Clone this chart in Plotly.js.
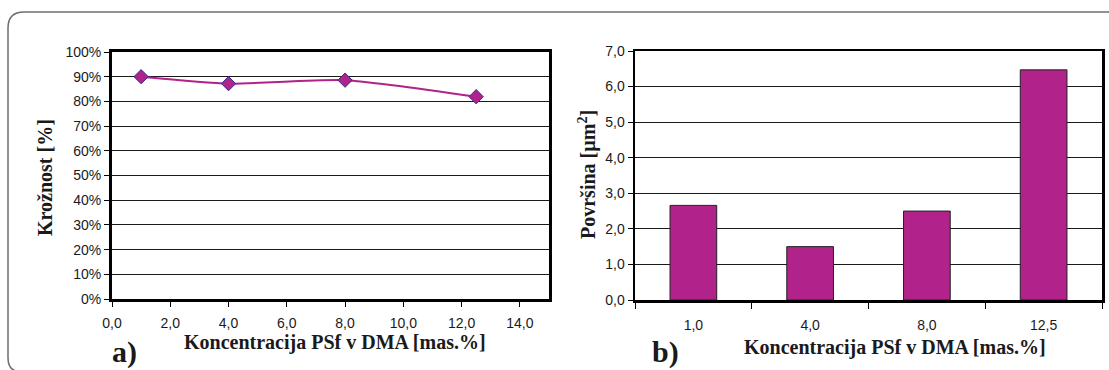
<!DOCTYPE html>
<html>
<head>
<meta charset="utf-8">
<script src="https://cdn.plot.ly/plotly-3.0.1.min.js"></script>
<style>html,body{margin:0;padding:0;background:#fff;}#chart{width:1109px;height:370px;}</style>
</head>
<body>
<div id="chart"></div>
<script>
// Data
const concentration = [1.0, 4.0, 8.0, 12.5];          // mas.%
const roundness = [0.900, 0.872, 0.886, 0.819];       // Krožnost (fraction)
const areaCategories = ['1,0', '4,0', '8,0', '12,5'];
const areaValues = [2.66, 1.50, 2.50, 6.47];          // Površina [µm²]

const W = 1109, H = 370;
const px = x => x / W;
const py = y => 1 - y / H;

const magenta = '#b1228a';
const serif = "'Liberation Serif', 'Times New Roman', serif";
const tickFont = {family: "'Liberation Sans', Arial, sans-serif", size: 14, color: '#1a1a1a'};
const titleFont = {family: serif, size: 20, color: '#1a1a1a', weight: 'bold'};
const labelFont = {family: serif, size: 30, color: '#1a1a1a', weight: 'bold'};

const traces = [
  {
    type: 'scatter', mode: 'lines+markers',
    x: concentration, y: roundness,
    xaxis: 'x', yaxis: 'y',
    line: {color: magenta, width: 2, shape: 'spline', smoothing: 0.6},
    marker: {symbol: 'diamond', size: 11, color: magenta, line: {color: '#2e2e8f', width: 1}},
    hoverinfo: 'skip'
  },
  {
    type: 'bar',
    x: areaCategories, y: areaValues,
    xaxis: 'x2', yaxis: 'y2',
    marker: {color: magenta, line: {color: '#222', width: 1}},
    hoverinfo: 'skip'
  }
];

const yTop = 52, yBot = 299;

const layout = {
  width: W, height: H,
  margin: {l: 0, r: 0, t: 0, b: 0},
  paper_bgcolor: '#fff', plot_bgcolor: '#fff',
  showlegend: false,
  separators: ',.',
  xaxis: {
    domain: [px(112), px(549)], anchor: 'y',
    range: [0, 15], dtick: 2, tick0: 0, tickformat: '.1f',
    showgrid: false, zeroline: false,
    showline: true, mirror: true, linecolor: '#000', linewidth: 3,
    ticks: 'outside', ticklen: 5, tickcolor: '#000', tickwidth: 1,
    tickfont: tickFont, ticklabelstandoff: 4
  },
  yaxis: {
    domain: [py(yBot), py(yTop)], anchor: 'x',
    range: [0, 1], dtick: 0.1, tickformat: '.0%',
    showgrid: true, gridcolor: '#1a1a1a', gridwidth: 1, zeroline: false,
    showline: true, mirror: true, linecolor: '#000', linewidth: 3,
    ticks: 'outside', ticklen: 5, tickcolor: '#000', tickwidth: 1,
    tickfont: tickFont
  },
  xaxis2: {
    domain: [px(635), px(1102)], anchor: 'y2',
    type: 'category', categoryorder: 'array', categoryarray: areaCategories,
    showgrid: false, zeroline: false,
    showline: true, mirror: true, linecolor: '#000', linewidth: 2.5,
    ticks: 'outside', tickson: 'boundaries', ticklen: 6, tickcolor: '#000', tickwidth: 1,
    tickfont: tickFont, ticklabelstandoff: 11
  },
  yaxis2: {
    domain: [py(yBot + 1), py(yTop - 1)], anchor: 'x2',
    range: [0, 7], dtick: 1, tickformat: '.1f',
    showgrid: true, gridcolor: '#1a1a1a', gridwidth: 1, zeroline: false,
    showline: true, mirror: true, linecolor: '#000', linewidth: 2.5,
    ticks: 'outside', ticklen: 5, tickcolor: '#000', tickwidth: 1,
    tickfont: tickFont
  },
  bargap: 0.6,
  annotations: [
    {text: 'Koncentracija PSf v DMA [mas.%]', xref: 'paper', yref: 'paper',
     x: px(335), y: py(342), xanchor: 'center', yanchor: 'middle', showarrow: false, font: titleFont},
    {text: 'Koncentracija PSf v DMA [mas.%]', xref: 'paper', yref: 'paper',
     x: px(895), y: py(347), xanchor: 'center', yanchor: 'middle', showarrow: false, font: titleFont},
    {text: 'Krožnost [%]', xref: 'paper', yref: 'paper', textangle: -90,
     x: px(45), y: py(178), xanchor: 'center', yanchor: 'middle', showarrow: false, font: titleFont},
    {text: 'Površina [µm<sup>2</sup>]', xref: 'paper', yref: 'paper', textangle: -90,
     x: px(587), y: py(175), xanchor: 'center', yanchor: 'middle', showarrow: false, font: titleFont},
    {text: 'a)', xref: 'paper', yref: 'paper',
     x: px(124), y: py(352), xanchor: 'center', yanchor: 'middle', showarrow: false, font: labelFont},
    {text: 'b)', xref: 'paper', yref: 'paper',
     x: px(665), y: py(352), xanchor: 'center', yanchor: 'middle', showarrow: false, font: labelFont}
  ],
  shapes: [
    {type: 'path', xref: 'paper', yref: 'paper', layer: 'below',
     path: `M ${px(1109)},${py(12)} L ${px(24)},${py(12)} Q ${px(8)},${py(12)} ${px(8)},${py(28)} L ${px(8)},${py(358)} Q ${px(8)},${py(372)} ${px(22)},${py(372)}`,
     line: {color: '#6e6e6e', width: 1.5}}
  ]
};

Plotly.newPlot('chart', traces, layout, {staticPlot: true, displayModeBar: false});
</script>
</body>
</html>
